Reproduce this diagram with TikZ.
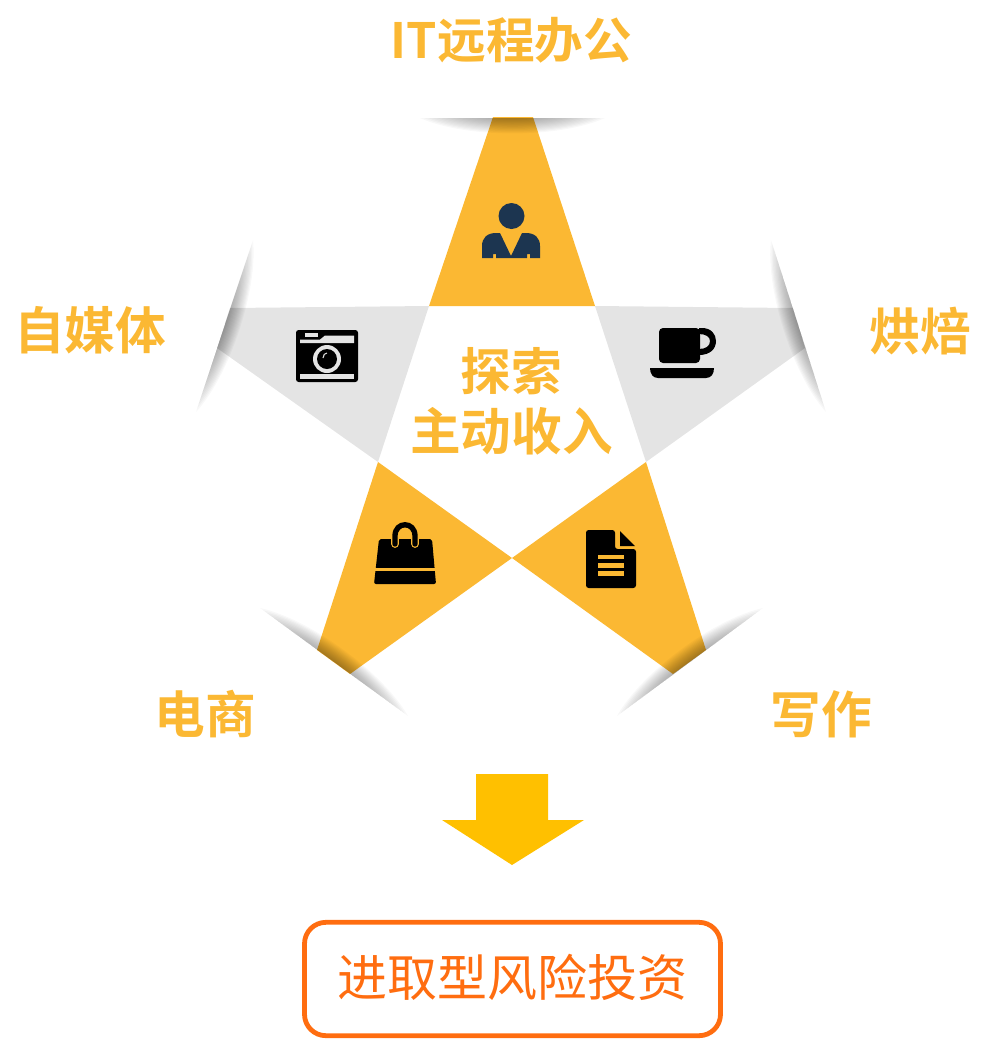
\documentclass[tikz,border=0pt]{standalone}
\usepackage{fontspec}
\usepackage{xcolor}
\usetikzlibrary{calc}
\newfontfamily\cjkbold{Noto Sans CJK SC Bold}
\newfontfamily\cjkreg{Noto Sans CJK SC}
\definecolor{armorange}{HTML}{FBB833}
\definecolor{armgray}{HTML}{E4E4E4}
\definecolor{suitblue}{HTML}{1C3550}
\definecolor{arrowyellow}{HTML}{FFC000}
\definecolor{boxorange}{HTML}{FF6D10}
\tikzset{
  armlabel/.style={text=armorange,font=\cjkbold\fontsize{38}{45}\selectfont,inner sep=0pt,align=center},
}

\begin{document}
\begin{tikzpicture}[x=0.75pt,y=-0.75pt]
  \useasboundingbox (0,0) rectangle (996,1040);

  % --- star arms ---
  \fill[armorange] (493,117) -- (533,117) -- (595,306) -- (429,306) -- cycle;
  \fill[armgray] (429,306) -- (230,308) -- (217,348) -- (378,462) -- cycle;
  \fill[armgray] (595,306) -- (793,308) -- (805,348) -- (646,462) -- cycle;
  \fill[armorange] (378,462) -- (512,558) -- (350,674) -- (317,650) -- cycle;
  \fill[armorange] (646,462) -- (512,558) -- (673,674) -- (706,650) -- cycle;

  % --- fold shadows, inside is on the left of A to B ---
  \foreach \ax/\ay/\bx/\by in {605/118/420/118,253/240/196/412,260/608/408/716,617/716/763/608,826/412/771/240}{
    \coordinate (A) at (\ax,\ay);
    \coordinate (B) at (\bx,\by);
    % nested lenses, the long ones stay faint
    \foreach \k in {1,...,14}{
      \pgfmathsetmacro{\d}{1.1*\k}
      \pgfmathsetmacro{\s}{0.5-0.5*(\k/14)^0.6}
      \pgfmathsetmacro{\e}{1-\s}
      \fill[black,opacity=0.028] ($(A)!\s!(B)$)
        .. controls ($(A)!\s+0.25*(\e-\s)!(B)!\d pt!90:(B)$) and ($(A)!\e-0.25*(\e-\s)!(B)!\d pt!90:(B)$)
        .. ($(A)!\e!(B)$) -- cycle;
    }
  }

  % --- person ---
  \fill[suitblue] (511.5,216) circle[radius=13];
  \fill[suitblue] (482,258) -- (482,246) .. controls (482,238) and (487,233) .. (496,233)
    -- (500,233) -- (511,256) -- (522,233) -- (526,233)
    .. controls (535,233) and (540,238) .. (540,246) -- (540,258)
    -- (530,258) -- (530,254) -- (527,254) -- (527,258)
    -- (496,258) -- (496,254) -- (493,254) -- (493,258) -- cycle;

  % --- camera ---
  \fill[black,rounded corners=2pt] (296,330) rectangle (358,382);
  \fill[armgray] (305,333) rectangle (318,337);
  \fill[armgray] (300,343) -- (300,339.5) -- (320,339.5) -- (325,335.5) -- (354,335.5) -- (354,343) -- cycle;
  \fill[armgray] (300,374) rectangle (354,379);
  \fill[armgray] (327,359) circle[radius=14];
  \fill[black] (327,359) circle[radius=10];
  \draw[armgray,line width=0.8pt] (323,358) .. controls (323,355) and (325,353) .. (327,353);

  % --- cup ---
  \fill[black] (699,328) -- (702,328) .. controls (711,328) and (716,334) .. (716,341)
    .. controls (716,349) and (710,355) .. (699,355) -- (699,349)
    .. controls (706,349) and (710,346) .. (710,341)
    .. controls (710,337) and (706,334) .. (699,334) -- cycle;
  \fill[black,rounded corners=3pt] (659,328) -- (659,363) -- (700,363) -- (700,328) -- cycle;
  \fill[black] (650,368) -- (714,368) .. controls (714,374) and (711,378) .. (706,378)
    -- (658,378) .. controls (653,378) and (650,374) .. (650,368) -- cycle;

  % --- bag ---
  \fill[black,rounded corners=1.5pt] (379,539) -- (432,539) -- (436,584) -- (374,584) -- cycle;
  \fill[armorange] (370,568) rectangle (440,570.5);
  \draw[armorange,line width=5.8pt,line cap=round] (395,544) -- (395,536) .. controls (395,521) and (415,521) .. (415,536) -- (415,544);
  \draw[black,line width=4pt,line cap=round] (395,544) -- (395,536) .. controls (395,521) and (415,521) .. (415,536) -- (415,544);

  % --- document ---
  \fill[black,rounded corners=2pt] (586,530) -- (615,530) -- (615,549) -- (636,549) -- (636,588) -- (586,588) -- cycle;
  \fill[black] (620,531) -- (635,546) -- (620,546) -- cycle;
  \fill[armorange] (598,555) rectangle (624,559);
  \fill[armorange] (598,563) rectangle (624,568);
  \fill[armorange] (598,571) rectangle (624,576);

  % --- labels ---
  \node[armlabel,font=\cjkbold\fontsize{36.5}{45}\selectfont] (remote) at (511.5,40) {IT远程办公};
  \node[armlabel] (media) at (90,330) {自媒体};
  \node[armlabel] (baking) at (920,331) {烘焙};
  \node[armlabel] (shop) at (205,714) {电商};
  \node[armlabel] (writing) at (821,714) {写作};
  \node[armlabel] (income) at (511.5,401) {探索\\主动收入};

  % --- arrow and result box ---
  \fill[arrowyellow] (476,774) -- (548,774) -- (548,820) -- (584,820) -- (512,865) -- (442,820) -- (476,820) -- cycle;
  \node[draw=boxorange,line width=3.6pt,rounded corners=16pt,minimum width=312pt,minimum height=85pt,
    text=boxorange,font=\cjkreg\fontsize{37.5}{45}\selectfont,inner sep=0pt] (risk) at (512.5,979) {\raisebox{5pt}{进取型风险投资}};
\end{tikzpicture}
\end{document}
